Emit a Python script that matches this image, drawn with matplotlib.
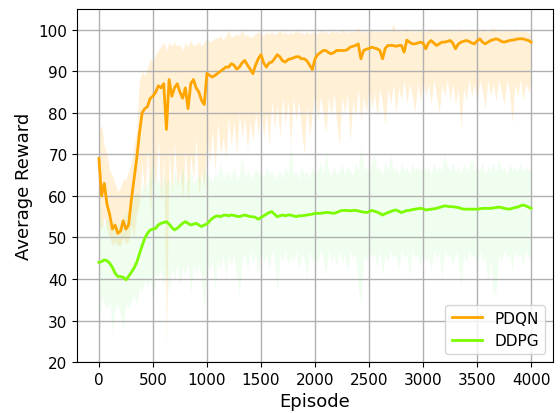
import numpy as np #number functions
import matplotlib
matplotlib.use('Agg')
import matplotlib.pyplot as plt #plotting functions

'''average reward per episode for PDQN and DDPG, values read off the reference picture every 25 episodes'''

episodes = np.arange(0, 4001, 25) #episode axis

pdqn_mean = [69, 60, 63, 58, 55.5, 52, 53, 51,
             51.5, 54, 52, 53, 59, 64, 69, 75,
             80, 81, 81.5, 83.5, 84, 85, 86.5, 86,
             87, 76, 88, 84, 86, 87, 85, 83.5,
             86, 81, 87, 88, 86, 85, 83, 82,
             89.5, 89, 88.6, 89, 89.5, 90, 90.5, 91,
             91, 91.8, 91.5, 90.5, 91, 92, 92.6, 91.5,
             90.5, 89.4, 91.5, 93, 94, 92, 91, 92,
             92.2, 93, 94, 93.5, 92.5, 92.2, 92.8, 93,
             93.2, 93.5, 93.5, 93, 93, 92.5, 91.5, 90.4,
             93, 94, 94.5, 95, 95, 94.5, 94.2, 94.5,
             95, 95, 95, 95, 95.2, 95.8, 96, 96.2,
             96.6, 93, 95, 95.3, 95.5, 95.8, 95.6, 95.4,
             95, 93, 95.5, 96.2, 96.2, 96.2, 96, 96.2,
             96.2, 94.6, 97.5, 97, 96.6, 96.6, 96.8, 97,
             96.8, 95.4, 96.8, 97.4, 96.8, 96.2, 96.6, 97,
             97, 97.2, 97.4, 96.8, 95.4, 96.5, 97, 97.2,
             97.4, 97.2, 96.8, 96.6, 97.3, 97.8, 97, 96.6,
             97, 97.4, 97.6, 97.8, 97.6, 97.2, 97, 97.2,
             97.4, 97.5, 97.6, 97.8, 97.8, 97.8, 97.6, 97.4,
             97]

pdqn_high = [76, 77, 72, 70, 66, 65, 63, 61,
             62, 64, 64, 66, 68, 72, 76, 88,
             90, 89, 91, 93, 92, 94, 95, 96,
             97, 95, 97, 96, 97, 96, 96.5, 95,
             97, 96, 97.5, 96, 96.5, 97, 96, 97,
             98, 97, 97.5, 98, 98, 98.5, 97.5, 98.5,
             100, 98, 98.5, 99, 98.5, 100, 98.5, 99,
             98, 98.5, 99, 99.5, 99, 98.5, 99.5, 99,
             99.5, 98.8, 99.2, 100, 99, 99.5, 98.8, 99.5,
             99, 100, 99.2, 99.5, 98.8, 99.6, 99, 99.4,
             99.5, 99, 100, 99.3, 99.6, 99, 99.8, 99.4,
             99.6, 99.2, 100, 99.5, 99.3, 99.8, 99.4, 99.6,
             100.5, 99.4, 99.8, 99.3, 99.6, 99.9, 99.4, 99.7,
             99.5, 99.8, 99.4, 100, 99.5, 101.4, 99.6, 99.9,
             99.5, 99.8, 100.2, 99.5, 99.9, 99.4, 99.8, 99.6,
             100, 99.5, 99.8, 100.4, 99.6, 99.9, 99.5, 99.8,
             99.6, 100.2, 99.5, 99.9, 99.6, 99.8, 100, 99.5,
             99.8, 99.6, 100.1, 99.5, 99.9, 99.6, 100.2, 99.7,
             99.5, 99.9, 100.6, 99.6, 99.8, 99.5, 100.1, 99.7,
             99.9, 99.5, 100, 99.6, 99.8, 99.5, 99.7, 99.2,
             99]

pdqn_low = [53, 52, 55, 52, 50, 48, 49, 48,
            48, 50, 48.5, 49, 53, 50, 56, 58,
            68, 60, 72, 55, 70, 62, 74, 58,
            70, 24, 72, 60, 73, 62, 66, 59,
            72, 58, 70, 64, 74, 60, 66, 62,
            75, 68, 76, 66, 78, 70, 74, 69,
            79, 72, 78, 70, 80, 74, 79, 71,
            78, 73, 80, 75, 82, 74, 80, 72,
            83, 76, 82, 74, 84, 77, 83, 72,
            84, 78, 83, 76, 70, 82, 74, 80,
            85, 78, 84, 80, 75, 84, 79, 85,
            78, 72, 84, 80, 85, 73, 83, 79,
            86, 78, 84, 80, 86, 81, 85, 79,
            86, 82, 77, 86, 82, 87, 80, 86,
            83, 88, 82, 87, 84, 80, 87, 83,
            88, 84, 87, 82, 88, 84, 80, 87,
            84, 88, 83, 87, 82, 86, 76, 86,
            83, 88, 84, 87, 82, 88, 85, 81,
            88, 84, 87, 83, 88, 85, 82, 88,
            85, 77.5, 87, 84, 88, 83, 87, 85,
            88]

ddpg_mean = [44, 44.2, 44.6, 44.4, 43.8, 42.8, 41.4, 40.6,
             40.6, 40.4, 39.8, 40.6, 41.6, 42.6, 44, 46,
             48, 49.8, 51, 51.8, 52, 52.2, 53, 53.4,
             53.6, 53.8, 53.2, 52.4, 51.8, 52.2, 52.8, 53.4,
             53.8, 53.4, 53, 53.2, 53.4, 53, 52.6, 53,
             53.2, 54, 54.6, 55, 55.2, 55, 55.3, 55.4,
             55.2, 55.4, 55.3, 55.1, 55, 55.2, 55.4, 55.2,
             55, 55, 54.8, 54.4, 54.8, 55.2, 55.6, 56,
             56.2, 55.6, 55, 55.2, 55.4, 55.2, 55.4, 55.4,
             55.2, 55, 55.2, 55.2, 55.3, 55.4, 55.5, 55.6,
             55.8, 55.8, 55.8, 55.9, 56, 56, 55.9, 55.8,
             56, 56.3, 56.5, 56.5, 56.5, 56.4, 56.5, 56.5,
             56.4, 56.2, 56.1, 56, 56.2, 56.5, 56.3, 56.1,
             55.8, 55.4, 55.7, 56, 56.2, 56.5, 56.6, 56.3,
             56, 56.2, 56.5, 56.5, 56.7, 56.8, 56.9, 57,
             56.9, 56.6, 56.7, 56.8, 56.9, 57, 57.2, 57.4,
             57.6, 57.5, 57.4, 57.4, 57.3, 57.2, 57, 56.8,
             56.8, 56.8, 56.8, 56.8, 56.8, 56.9, 57, 57,
             57, 57, 57.1, 57.2, 57.3, 57.2, 57, 56.9,
             56.8, 57, 57.2, 57.3, 57.6, 57.8, 57.6, 57.3,
             57]

ddpg_high = [58, 54, 53, 55, 52, 54, 52, 53,
             54, 55, 56, 57, 58, 60, 61, 60,
             63, 62, 63, 65, 69, 63, 64, 62,
             65, 63, 64, 62, 66, 63, 64, 67,
             63, 64, 66, 63, 64, 65, 63, 67,
             64, 65, 63, 66, 64, 68, 64, 65,
             66, 64, 67, 64, 65, 70, 64, 66,
             65, 64, 67, 65, 66, 64, 67, 65,
             66, 64, 65, 66, 64, 67, 65, 73,
             65, 66, 64, 67, 65, 66, 64, 67,
             65, 66, 68, 65, 71, 66, 65, 67,
             65, 66, 68, 65, 67, 66, 65, 68,
             66, 72, 66, 67, 65, 68, 70, 66,
             67, 65, 68, 66, 70, 66, 67, 65,
             68, 66, 67, 65, 68, 66, 67, 66,
             68, 66, 67, 65, 68, 66, 67, 66,
             70, 67, 66, 68, 66, 67, 65, 68,
             66, 67, 69, 66, 67, 66, 68, 65,
             67, 66, 68, 66, 69, 66, 67, 65,
             68, 66, 67, 66, 68, 66, 67, 66,
             67]

ddpg_low = [25, 36, 34, 33, 35, 27, 33, 34,
            31, 28, 34, 33, 35, 36, 34, 38,
            37, 40, 38, 41, 34, 42, 40, 43,
            38, 42, 36, 43, 40, 44, 38, 43,
            41, 44, 36, 44, 41, 44, 40, 33,
            44, 42, 45, 37, 45, 42, 46, 40,
            46, 43, 46, 41, 36, 45, 46, 42,
            47, 44, 46, 41, 47, 44, 46, 42,
            47, 45, 37, 46, 44, 47, 43, 46,
            44, 47, 42, 46, 45, 40, 47, 44,
            46, 43, 47, 45, 41, 47, 44, 46,
            43, 47, 44, 46, 42, 47, 45, 46,
            38, 34, 46, 44, 47, 45, 46, 43,
            47, 41, 46, 44, 47, 45, 46, 42,
            47, 45, 46, 40, 47, 45, 46, 43,
            47, 44, 46, 42, 47, 45, 46, 40,
            47, 45, 46, 43, 47, 45, 38, 46,
            44, 47, 45, 46, 41, 47, 44, 46,
            39, 45, 36, 37, 46, 44, 47, 45,
            46, 42, 47, 45, 46, 43, 47, 45,
            46]

fig, ax = plt.subplots(figsize=(5.6, 4.14), dpi=100)
fig.subplots_adjust(left=0.138, right=0.987, bottom=0.123, top=0.976)

ax.fill_between(episodes, pdqn_low, pdqn_high, color='orange', alpha=0.16, linewidth=0) #PDQN spread
ax.fill_between(episodes, ddpg_low, ddpg_high, color='palegreen', alpha=0.15, linewidth=0) #DDPG spread
ax.plot(episodes, pdqn_mean, color='orange', linewidth=2, label='PDQN')
ax.plot(episodes, ddpg_mean, color='lawngreen', linewidth=2, label='DDPG')

ax.set_ylim(20, 105)
ax.set_xticks(np.arange(0, 4001, 500))
ax.set_yticks(np.arange(20, 101, 10))
ax.tick_params(labelsize=11)
ax.grid(True, color='#b0b0b0', linewidth=1)
ax.set_xlabel('Episode', fontsize=13)
ax.set_ylabel('Average Reward', fontsize=13)
ax.legend(loc='lower right', fontsize=11)

plt.savefig('out.png', dpi=100) #export chart as png
